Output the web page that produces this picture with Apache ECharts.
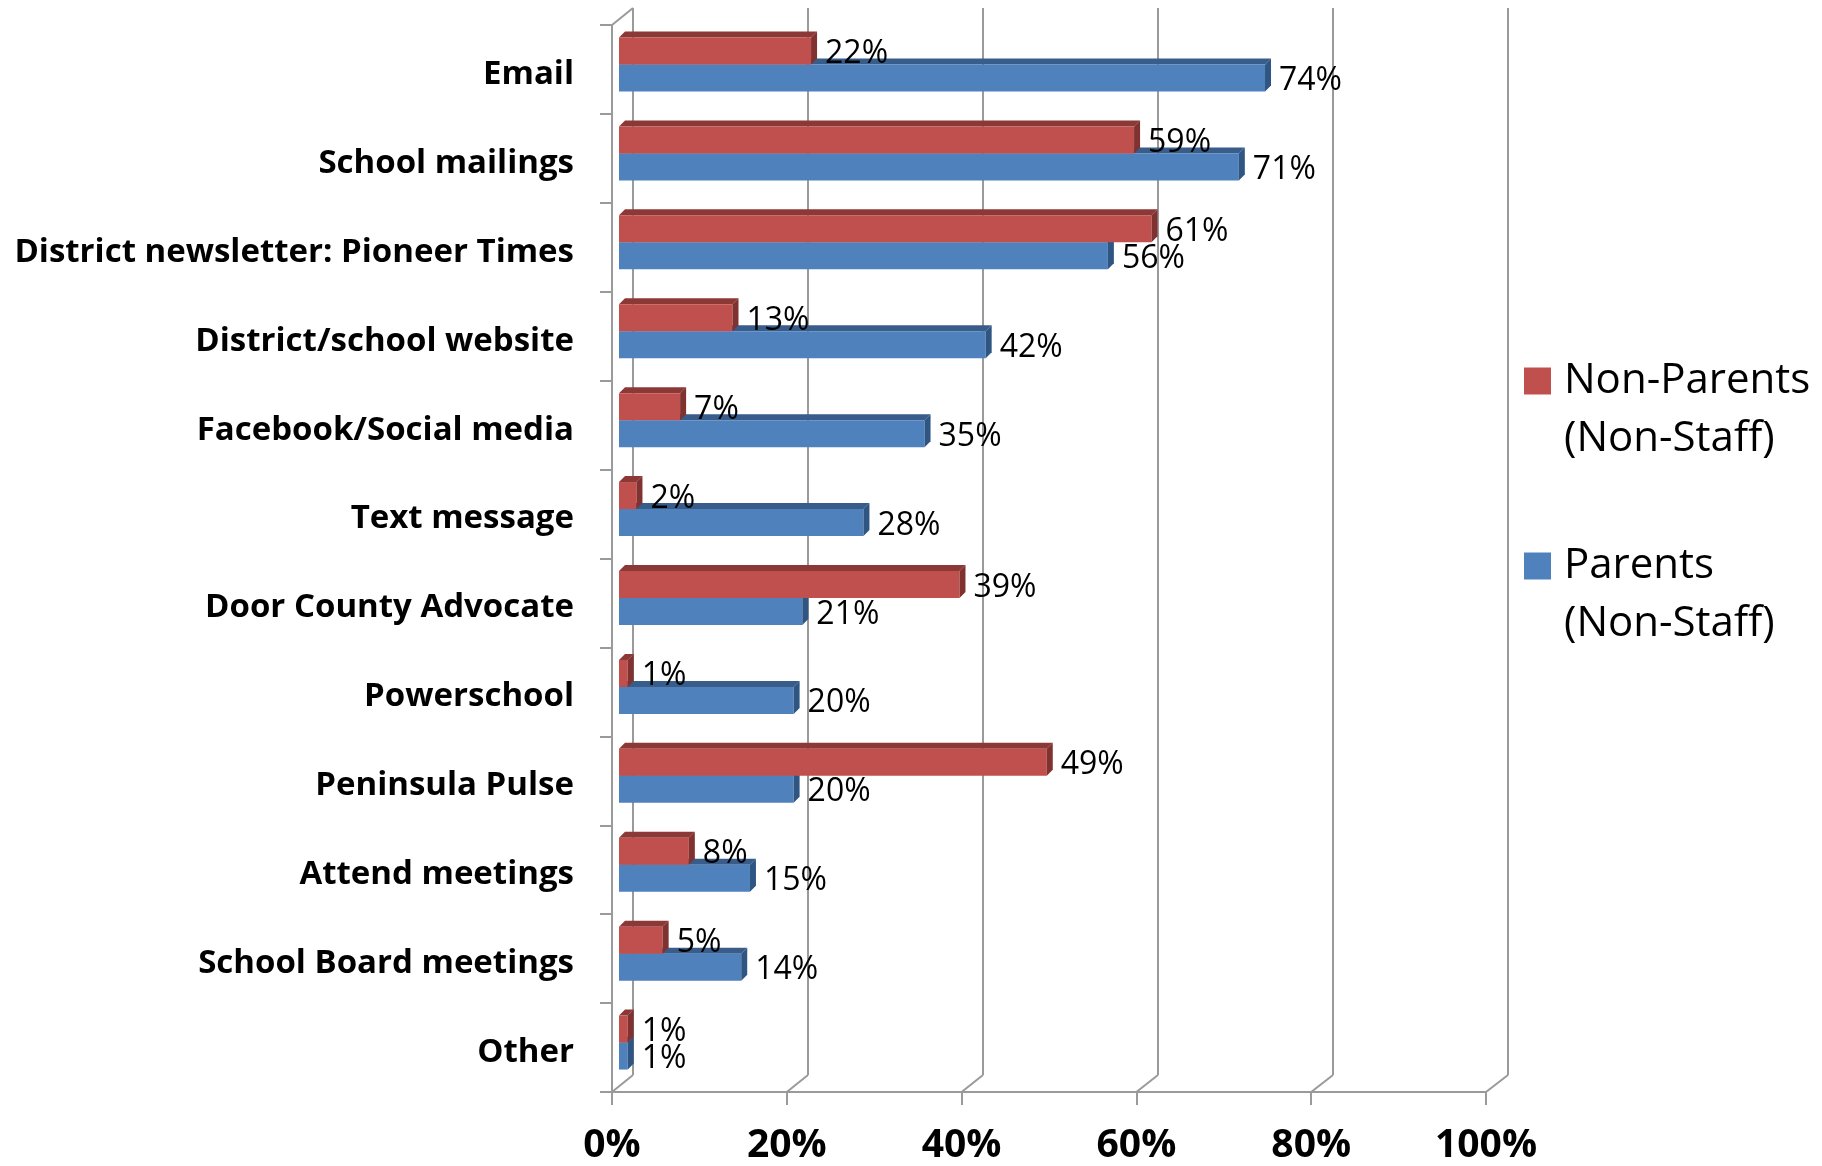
<!DOCTYPE html>
<html><head><meta charset="utf-8">
<script src="https://cdn.jsdelivr.net/npm/echarts@6/dist/echarts.min.js"></script>
<style>html,body{margin:0;padding:0;background:#fff}#c{width:1822px;height:1166px}</style>
</head><body><div id="c"></div>
<script>
const categories = ['Email','School mailings','District newsletter: Pioneer Times','District/school website','Facebook/Social media','Text message','Door County Advocate','Powerschool','Peninsula Pulse','Attend meetings','School Board meetings','Other'];
const nonParents = [22,59,61,13,7,2,39,1,49,8,5,1];
const parents = [74,71,56,42,35,28,21,20,20,15,14,1];
const xTicks = [0,20,40,60,80,100];
const seriesNames = ['Non-Parents\n(Non-Staff)','Parents\n(Non-Staff)'];

const W = 1822, H = 1166;
const FRONT = {left:612, right:W-1486, top:25, bottom:H-1092};
const LABELS = {left:612, right:W-1486, top:30, bottom:H-1097};
const BACK = {left:633, right:W-1508, top:8, bottom:H-1075};
const BARS = {left:619, right:W-1492, top:20, bottom:H-1087};
const GRAY = '#9a9a9a';

function makeRender(isUpper, face, topc, side){
  return function(params, api){
    const v = api.value(0), ci = api.value(1);
    const p0 = api.coord([0, ci]), p1 = api.coord([v, ci]);
    const bw = 27, d = 6;
    const y0 = isUpper ? p0[1]-bw : p0[1], y1 = y0 + bw;
    const x0 = p0[0], x1 = p1[0];
    return {type:'group', children:[
      {type:'polygon', shape:{points:[[x0,y0],[x0+d,y0-d],[x1+d,y0-d],[x1,y0]]}, style:{fill:topc}},
      {type:'rect', shape:{x:x0,y:y0,width:x1-x0,height:bw}, style:{fill:face}},
      {type:'polygon', shape:{points:[[x1,y0],[x1+d,y0-d],[x1+d,y1-d],[x1,y1]]}, style:{fill:side}},
      {type:'text', x:x1+d+8, y:(y0+y1)/2+3, style:{text:v+'%', fill:'#000', fontSize:32, fontFamily:'Open Sans', verticalAlign:'middle', align:'left'}}
    ]};
  };
}

const chart = echarts.init(document.getElementById('c'), null, {renderer:'canvas'});
const option = {
  backgroundColor:'#fff',
  animation:false,
  grid:[
    Object.assign({}, FRONT),
    Object.assign({}, BACK),
    Object.assign({}, BARS),
    Object.assign({}, LABELS)
  ],
  xAxis:[
    {gridIndex:0, type:'value', min:0, max:100, interval:20,
     axisLine:{show:true, lineStyle:{color:GRAY, width:2}},
     axisTick:{show:true, length:13, lineStyle:{color:GRAY, width:2}},
     splitLine:{show:false},
     axisLabel:{formatter:'{value}%', margin:34, color:'#000', fontSize:39, fontWeight:'bold', fontFamily:'"Liberation Sans Narrow", "Open Sans"'}},
    {gridIndex:1, type:'value', min:0, max:100, interval:20,
     axisLine:{show:false}, axisTick:{show:false}, axisLabel:{show:false},
     splitLine:{show:true, lineStyle:{color:GRAY, width:2}}},
    {gridIndex:2, type:'value', min:0, max:100, interval:20, show:false},
    {gridIndex:3, type:'value', min:0, max:100, interval:20, show:false}
  ],
  yAxis:[
    {gridIndex:0, type:'category', data:categories, inverse:true,
     axisLine:{show:true, lineStyle:{color:GRAY, width:2}},
     axisTick:{show:true, length:12, lineStyle:{color:GRAY, width:2}},
     axisLabel:{show:false}},
    {gridIndex:1, type:'category', data:categories, inverse:true, show:false},
    {gridIndex:2, type:'category', data:categories, inverse:true, show:false},
    {gridIndex:3, type:'category', data:categories, inverse:true,
     axisLine:{show:false}, axisTick:{show:false},
     axisLabel:{margin:38, color:'#000', fontSize:33, fontWeight:'bold', fontFamily:'Open Sans'}}
  ],
  legend:{orient:'vertical', left:1519, top:289, data:seriesNames, itemWidth:27, itemHeight:27, itemGap:11,
    icon:'rect', selectedMode:false,
    formatter: name => ' \n' + name,
    textStyle:{fontFamily:'Open Sans', fontSize:42, color:'#000', lineHeight:58, padding:[0,0,0,8]}},
  series:[
    {name:seriesNames[1], type:'custom', xAxisIndex:2, yAxisIndex:2, itemStyle:{color:'#4F81BD'},
     encode:{x:0,y:1}, data:parents.map((v,i)=>[v,i]), renderItem:makeRender(false,'#4F81BD','#385D8A','#2F5582'), z:3},
    {name:seriesNames[0], type:'custom', xAxisIndex:2, yAxisIndex:2, itemStyle:{color:'#C0504D'},
     encode:{x:0,y:1}, data:nonParents.map((v,i)=>[v,i]), renderItem:makeRender(true,'#C0504D','#8C3836','#7F3230'), z:4}
  ]
};
chart.setOption(option);

// frame diagonals linking the front axes to the back wall
const diag = [];
const frontBottom = H - FRONT.bottom, backBottom = H - BACK.bottom;
xTicks.forEach(t => {
  const fx = chart.convertToPixel({xAxisIndex:0}, t);
  const bx = chart.convertToPixel({xAxisIndex:1}, t);
  diag.push({type:'line', shape:{x1:fx, y1:frontBottom, x2:bx, y2:backBottom}, style:{stroke:GRAY, lineWidth:2}, z:1});
});
const fx0 = chart.convertToPixel({xAxisIndex:0}, 0);
const bx0 = chart.convertToPixel({xAxisIndex:1}, 0);
diag.push({type:'line', shape:{x1:fx0, y1:FRONT.top, x2:bx0, y2:BACK.top}, style:{stroke:GRAY, lineWidth:2}, z:1});
chart.setOption({graphic:diag});
</script>
</body></html>
